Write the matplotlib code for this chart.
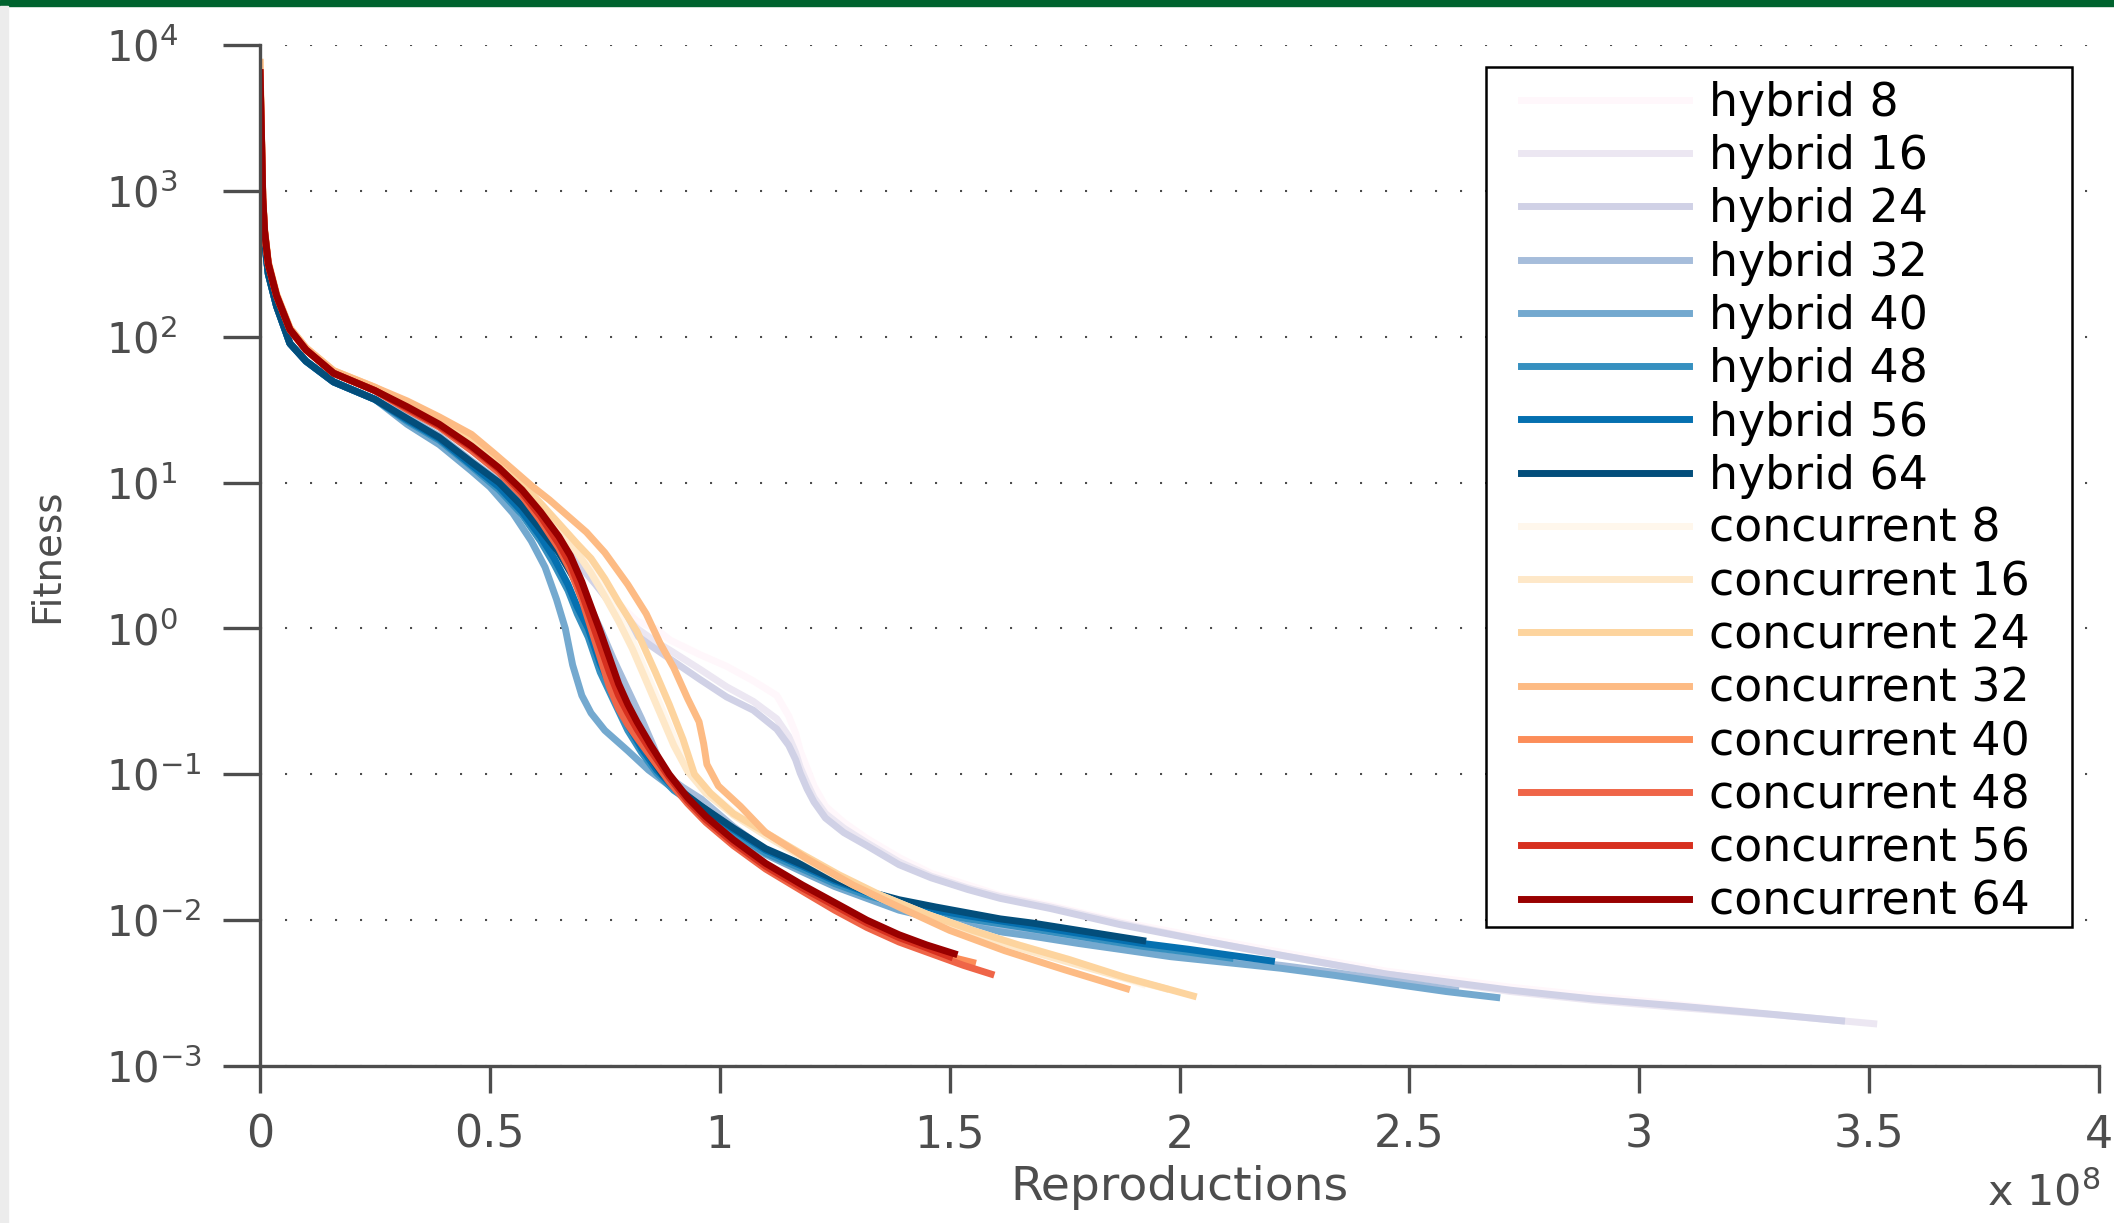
import matplotlib
matplotlib.use("Agg")
import matplotlib.pyplot as plt
from matplotlib.patches import Rectangle
from matplotlib.ticker import NullLocator

# Reproductions are in units of 1e8, fitness is plotted on a log axis.
# All runs share (nearly) the same first steep drop.
x_start = [0, 0.003, 0.006, 0.010, 0.018, 0.036, 0.065, 0.10, 0.16, 0.25]
fit_start_hybrid = [5500, 2000, 760, 450, 270, 162, 90, 68, 49, 37.2]
fit_start_conc = [6460, 2510, 891, 525, 316, 191, 112, 81.3, 56.2, 42.7]
fit_start_conc_light = [7600, 2600, 920, 540, 325, 196, 115, 84, 58.5, 45]

hybrid8_x = [0.32, 0.39, 0.46, 0.52, 0.57, 0.61, 0.65, 0.69, 0.73, 0.77, 0.82, 0.86, 0.892, 0.957, 1.015,
             1.073, 1.124, 1.15, 1.165, 1.175, 1.19, 1.205, 1.23, 1.27, 1.32, 1.39, 1.46, 1.54, 1.61, 1.72,
             1.87, 2.05, 2.22, 2.45, 2.72, 2.90, 3.09, 3.25]
hybrid8_fit = [32.4, 24.5, 17.0, 12.0, 8.51, 6.17, 4.37, 3.02, 2.19, 1.58, 1.12, 1.00, 0.832, 0.661, 0.550,
               0.437, 0.347, 0.251, 0.191, 0.145, 0.110, 0.0832, 0.0603, 0.0468, 0.0363, 0.0269, 0.0209,
               0.0174, 0.0148, 0.0126, 0.00977, 0.00759, 0.00603, 0.00447, 0.00347, 0.00302, 0.00263, 0.00234]

hybrid16_x = [0.32, 0.39, 0.46, 0.52, 0.57, 0.61, 0.65, 0.69, 0.73, 0.77, 0.82, 0.86, 0.892, 0.957, 1.015,
              1.073, 1.124, 1.15, 1.165, 1.175, 1.19, 1.205, 1.23, 1.27, 1.32, 1.39, 1.46, 1.54, 1.61, 1.72,
              1.87, 2.05, 2.22, 2.45, 2.72, 2.90, 3.09, 3.30, 3.51]
hybrid16_fit = [32.4, 24.5, 17.0, 12.0, 8.51, 6.17, 4.37, 3.02, 2.14, 1.48, 1.00, 0.813, 0.708, 0.525, 0.398,
                0.316, 0.240, 0.182, 0.141, 0.112, 0.0871, 0.0692, 0.0537, 0.0427, 0.0339, 0.0251, 0.0200,
                0.0166, 0.0145, 0.0123, 0.00955, 0.00724, 0.00575, 0.00427, 0.00324, 0.00282, 0.00251,
                0.00224, 0.00195]

hybrid24_x = [0.32, 0.39, 0.46, 0.52, 0.57, 0.61, 0.65, 0.69, 0.73, 0.77, 0.82, 0.86, 0.892, 0.957, 1.015,
              1.073, 1.124, 1.15, 1.165, 1.175, 1.19, 1.205, 1.23, 1.27, 1.32, 1.39, 1.46, 1.54, 1.61, 1.72,
              1.87, 2.05, 2.22, 2.45, 2.72, 2.90, 3.09, 3.27, 3.44]
hybrid24_fit = [31.6, 24.0, 16.6, 11.7, 8.32, 6.03, 4.17, 2.82, 2.00, 1.38, 0.891, 0.724, 0.617, 0.447, 0.339,
                0.275, 0.204, 0.158, 0.126, 0.102, 0.0794, 0.0646, 0.0501, 0.0398, 0.0324, 0.0240, 0.0195,
                0.0162, 0.0141, 0.0120, 0.00933, 0.00724, 0.00575, 0.00427, 0.00331, 0.00288, 0.00257,
                0.00229, 0.00204]

hybrid32_x = [0.32, 0.39, 0.46, 0.52, 0.57, 0.61, 0.65, 0.68, 0.71, 0.74, 0.77, 0.80, 0.83, 0.855, 0.88,
              0.92, 0.96, 1.03, 1.10, 1.18, 1.25, 1.32, 1.39, 1.47, 1.54, 1.61, 1.68, 1.78, 1.87, 1.98,
              2.10, 2.22, 2.34, 2.47, 2.60]
hybrid32_fit = [28.2, 20.9, 14.1, 10.2, 7.24, 5.01, 3.39, 2.40, 1.58, 1.00, 0.603, 0.380, 0.240, 0.158, 0.100,
                0.0813, 0.0676, 0.0437, 0.0302, 0.0224, 0.0178, 0.0148, 0.0123, 0.0107, 0.00955, 0.00871,
                0.00813, 0.00724, 0.00661, 0.00589, 0.00537, 0.00490, 0.00437, 0.00380, 0.00331]

hybrid40_x = [0.32, 0.39, 0.46, 0.50, 0.55, 0.59, 0.62, 0.645, 0.664, 0.68, 0.70, 0.72, 0.75, 0.80, 0.845,
              0.90, 0.96, 1.03, 1.10, 1.18, 1.25, 1.32, 1.39, 1.47, 1.54, 1.61, 1.68, 1.78, 1.87, 1.98,
              2.10, 2.22, 2.34, 2.47, 2.58, 2.69]
hybrid40_fit = [25.1, 18.2, 12.0, 9.33, 6.17, 3.98, 2.63, 1.58, 1.00, 0.562, 0.347, 0.263, 0.200, 0.145, 0.107,
                0.0794, 0.0575, 0.0389, 0.0282, 0.0214, 0.0170, 0.0141, 0.0117, 0.0102, 0.00912, 0.00832,
                0.00776, 0.00692, 0.00631, 0.00562, 0.00513, 0.00468, 0.00417, 0.00363, 0.00324, 0.00295]

hybrid48_x = [0.32, 0.39, 0.46, 0.52, 0.57, 0.61, 0.64, 0.67, 0.69, 0.714, 0.74, 0.77, 0.80, 0.83, 0.863,
              0.90, 0.96, 1.03, 1.10, 1.18, 1.25, 1.32, 1.39, 1.47, 1.54, 1.62, 1.72, 1.82, 1.92, 2.02, 2.11]
hybrid48_fit = [26.3, 19.5, 12.9, 8.91, 6.03, 3.98, 2.75, 1.82, 1.26, 0.871, 0.501, 0.316, 0.200, 0.141, 0.102,
                0.0776, 0.0575, 0.0398, 0.0288, 0.0224, 0.0178, 0.0148, 0.0129, 0.0112, 0.0102, 0.00933,
                0.00832, 0.00741, 0.00661, 0.00603, 0.00550]

hybrid56_x = [0.32, 0.39, 0.46, 0.52, 0.57, 0.61, 0.64, 0.67, 0.69, 0.714, 0.74, 0.77, 0.80, 0.83, 0.863,
              0.90, 0.96, 1.03, 1.10, 1.18, 1.25, 1.32, 1.39, 1.47, 1.54, 1.62, 1.72, 1.82, 1.92, 2.02, 2.11,
              2.20]
hybrid56_fit = [26.9, 20.0, 13.2, 9.33, 6.31, 4.27, 3.02, 2.00, 1.41, 1.00, 0.575, 0.355, 0.219, 0.151, 0.107,
                0.0813, 0.0603, 0.0417, 0.0302, 0.0234, 0.0186, 0.0155, 0.0135, 0.0117, 0.0107, 0.00977,
                0.00871, 0.00776, 0.00692, 0.00631, 0.00575, 0.00525]

hybrid64_x = [0.32, 0.39, 0.46, 0.52, 0.57, 0.61, 0.65, 0.68, 0.71, 0.733, 0.755, 0.78, 0.81, 0.845, 0.875,
              0.91, 0.96, 1.03, 1.10, 1.18, 1.25, 1.32, 1.39, 1.47, 1.54, 1.61, 1.68, 1.76, 1.84, 1.92]
hybrid64_fit = [27.5, 20.4, 13.8, 10.0, 6.92, 4.79, 3.31, 2.29, 1.45, 1.00, 0.631, 0.372, 0.229, 0.138, 0.100,
                0.0794, 0.0603, 0.0427, 0.0309, 0.0240, 0.0191, 0.0158, 0.0138, 0.0123, 0.0112, 0.0102,
                0.00955, 0.00871, 0.00794, 0.00724]

conc8_x = [0.32, 0.39, 0.46, 0.52, 0.57, 0.61, 0.65, 0.69, 0.72, 0.75, 0.78, 0.81, 0.84, 0.87, 0.90, 0.93,
           0.97, 1.03, 1.10, 1.18, 1.26, 1.35, 1.45, 1.55, 1.65, 1.76, 1.84, 1.92]
conc8_fit = [33.9, 26.3, 19.1, 13.5, 9.55, 7.08, 5.01, 3.55, 2.63, 1.86, 1.26, 0.832, 0.501, 0.302, 0.182,
             0.115, 0.0794, 0.0550, 0.0398, 0.0282, 0.0204, 0.0148, 0.0110, 0.00851, 0.00676, 0.00537,
             0.00437, 0.00363]

conc16_x = [0.32, 0.39, 0.46, 0.52, 0.57, 0.61, 0.65, 0.69, 0.72, 0.75, 0.78, 0.81, 0.84, 0.87, 0.90, 0.93,
            0.97, 1.03, 1.10, 1.18, 1.26, 1.35, 1.45, 1.55, 1.65, 1.76, 1.86, 1.97]
conc16_fit = [33.9, 26.3, 19.1, 13.2, 9.33, 6.76, 4.68, 3.31, 2.40, 1.66, 1.12, 0.724, 0.437, 0.263, 0.158,
              0.105, 0.0741, 0.0525, 0.0380, 0.0269, 0.0195, 0.0141, 0.0105, 0.00813, 0.00646, 0.00513,
              0.00417, 0.00339]

conc24_x = [0.32, 0.39, 0.46, 0.52, 0.57, 0.61, 0.65, 0.69, 0.72, 0.75, 0.78, 0.82, 0.86, 0.89, 0.92, 0.945,
            0.98, 1.03, 1.10, 1.18, 1.26, 1.35, 1.45, 1.55, 1.65, 1.76, 1.88, 2.03]
conc24_fit = [34.7, 26.9, 19.5, 13.8, 9.77, 7.24, 5.25, 3.80, 3.02, 2.19, 1.51, 0.955, 0.501, 0.302, 0.174,
              0.100, 0.0741, 0.0537, 0.0398, 0.0282, 0.0204, 0.0148, 0.0110, 0.00851, 0.00676, 0.00537,
              0.00407, 0.00302]

conc32_x = [0.32, 0.39, 0.46, 0.51, 0.55, 0.59, 0.63, 0.67, 0.71, 0.75, 0.80, 0.84, 0.87, 0.90, 0.93, 0.955,
            0.965, 0.972, 0.997, 1.045, 1.10, 1.19, 1.29, 1.39, 1.50, 1.62, 1.75, 1.885]
conc32_fit = [36.3, 28.2, 21.4, 15.8, 12.3, 9.55, 7.59, 5.89, 4.57, 3.31, 2.00, 1.26, 0.794, 0.537, 0.331,
              0.229, 0.162, 0.117, 0.0832, 0.0603, 0.0398, 0.0263, 0.0174, 0.0123, 0.00851, 0.00617,
              0.00457, 0.00339]

conc40_x = [0.32, 0.39, 0.46, 0.52, 0.57, 0.61, 0.65, 0.675, 0.70, 0.72, 0.74, 0.76, 0.78, 0.80, 0.82, 0.85,
            0.89, 0.93, 0.97, 1.03, 1.10, 1.18, 1.25, 1.32, 1.39, 1.46, 1.55]
conc40_fit = [32.4, 24.5, 17.0, 12.0, 8.32, 5.75, 3.72, 2.63, 1.66, 1.07, 0.692, 0.447, 0.316, 0.240, 0.191,
              0.138, 0.0933, 0.0646, 0.0479, 0.0331, 0.0229, 0.0162, 0.0120, 0.00912, 0.00724, 0.00603,
              0.00513]

conc48_x = [0.32, 0.39, 0.46, 0.52, 0.57, 0.61, 0.65, 0.675, 0.70, 0.72, 0.74, 0.76, 0.78, 0.80, 0.82, 0.85,
            0.89, 0.93, 0.97, 1.03, 1.10, 1.18, 1.25, 1.32, 1.39, 1.46, 1.53, 1.59]
conc48_fit = [31.6, 24.0, 16.6, 11.7, 8.13, 5.50, 3.55, 2.51, 1.58, 1.00, 0.631, 0.398, 0.282, 0.219, 0.178,
              0.132, 0.0891, 0.0631, 0.0468, 0.0324, 0.0224, 0.0158, 0.0117, 0.00891, 0.00708, 0.00589,
              0.00490, 0.00427]

conc56_x = [0.32, 0.39, 0.46, 0.52, 0.57, 0.61, 0.65, 0.675, 0.70, 0.72, 0.74, 0.76, 0.78, 0.80, 0.82, 0.85,
            0.89, 0.93, 0.97, 1.03, 1.10, 1.18, 1.25, 1.32, 1.39, 1.45, 1.50]
conc56_fit = [32.4, 24.5, 17.4, 12.3, 8.51, 5.89, 3.80, 2.75, 1.74, 1.15, 0.759, 0.501, 0.347, 0.263, 0.204,
              0.145, 0.0955, 0.0661, 0.0490, 0.0339, 0.0234, 0.0166, 0.0126, 0.00955, 0.00759, 0.00646,
              0.00562]

conc64_x = [0.32, 0.39, 0.46, 0.52, 0.57, 0.61, 0.65, 0.675, 0.70, 0.72, 0.74, 0.76, 0.78, 0.80, 0.82, 0.85,
            0.89, 0.93, 0.97, 1.03, 1.10, 1.18, 1.25, 1.32, 1.39, 1.45, 1.51]
conc64_fit = [33.1, 25.1, 17.8, 12.6, 8.91, 6.31, 4.27, 3.16, 2.09, 1.41, 0.955, 0.631, 0.417, 0.302, 0.229,
              0.158, 0.100, 0.0692, 0.0513, 0.0355, 0.0245, 0.0174, 0.0132, 0.0100, 0.00794, 0.00676,
              0.00589]

labels = ["hybrid 8", "hybrid 16", "hybrid 24", "hybrid 32", "hybrid 40", "hybrid 48", "hybrid 56",
          "hybrid 64", "concurrent 8", "concurrent 16", "concurrent 24", "concurrent 32",
          "concurrent 40", "concurrent 48", "concurrent 56", "concurrent 64"]
colors = ["#fff7fb", "#ece7f2", "#d0d1e6", "#a6bddb", "#74a9cf", "#3690c0", "#0570b0", "#034e7b",
          "#fff7ec", "#fee8c8", "#fdd49e", "#fdbb84", "#fc8d59", "#ef6548", "#d7301f", "#990000"]
starts = [fit_start_hybrid] * 8 + [fit_start_conc_light] * 4 + [fit_start_conc] * 4
tails = [(hybrid8_x, hybrid8_fit), (hybrid16_x, hybrid16_fit), (hybrid24_x, hybrid24_fit),
         (hybrid32_x, hybrid32_fit), (hybrid40_x, hybrid40_fit), (hybrid48_x, hybrid48_fit),
         (hybrid56_x, hybrid56_fit), (hybrid64_x, hybrid64_fit), (conc8_x, conc8_fit),
         (conc16_x, conc16_fit), (conc24_x, conc24_fit), (conc32_x, conc32_fit),
         (conc40_x, conc40_fit), (conc48_x, conc48_fit), (conc56_x, conc56_fit),
         (conc64_x, conc64_fit)]

xticks = [0, 0.5, 1, 1.5, 2, 2.5, 3, 3.5, 4]
xtick_labels = ["0", "0.5", "1", "1.5", "2", "2.5", "3", "3.5", "4"]
yticks = [1e-3, 1e-2, 1e-1, 1e0, 1e1, 1e2, 1e3, 1e4]
ytick_labels = [r"$10^{-3}$", r"$10^{-2}$", r"$10^{-1}$", r"$10^{0}$",
                r"$10^{1}$", r"$10^{2}$", r"$10^{3}$", r"$10^{4}$"]

W, H = 2114, 1223
GREY = "#4d4d4d"
plt.rcParams["font.family"] = ["DejaVu Sans"]
plt.rcParams["mathtext.fontset"] = "dejavusans"

fig = plt.figure(figsize=(W / 100, H / 100), dpi=100)
ax = fig.add_axes([260 / W, 1 - 1066 / H, (2099 - 260) / W, (1066 - 45) / H])

for lab, col, st, (tx, tf) in zip(labels, colors, starts, tails):
    ax.plot(x_start + tx, st + tf, color=col, lw=5, label=lab)

ax.set_yscale("log")
ax.set_xlim(0, 4)
ax.set_ylim(1e-3, 1e4)
ax.set_xticks(xticks)
ax.set_xticklabels(xtick_labels)
ax.set_yticks(yticks)
ax.set_yticklabels(ytick_labels)
ax.yaxis.set_minor_locator(NullLocator())
ax.xaxis.set_minor_locator(NullLocator())

for side in ["top", "right"]:
    ax.spines[side].set_visible(False)
for side in ["left", "bottom"]:
    ax.spines[side].set_color(GREY)
    ax.spines[side].set_linewidth(2.4)
ax.tick_params(axis="x", direction="out", length=19.4, width=2.4, color=GREY,
               labelsize=32, labelcolor=GREY, pad=15)
ax.tick_params(axis="y", direction="out", length=26.6, width=2.4, color=GREY,
               labelsize=30, labelcolor=GREY, pad=84)
for t in ax.get_yticklabels():
    t.set_horizontalalignment("left")

ax.yaxis.grid(True, which="major", color=GREY, linestyle=(0, (1, 11)), linewidth=1.5)
ax.xaxis.grid(False)

fig.text(47 / W, 1 - 556 / H, "Fitness", rotation=90, ha="center", va="center",
         fontsize=28, color=GREY)
fig.text(1179 / W, 1 - 1200 / H, "Reproductions", ha="center", va="baseline",
         fontsize=34, color=GREY)
fig.text(2100 / W, 1 - 1172 / H, r"x 10$^{8}$", ha="right", va="top", fontsize=31, color=GREY)

# legend frame drawn by hand so the padding matches the original
fig.add_artist(Rectangle((1486 / W, 1 - 927 / H), 586 / W, 860 / H, transform=fig.transFigure,
                         facecolor="white", edgecolor="black", linewidth=1.8, zorder=4))
handles, labs = ax.get_legend_handles_labels()
leg_fs = 33
fs_px = leg_fs * 100 / 72
leg = fig.legend(handles, labs, loc="upper left", bbox_to_anchor=(1521 / W, 1 - 81 / H),
                 frameon=False, fontsize=leg_fs, borderpad=0, borderaxespad=0,
                 handlelength=168 / fs_px, handletextpad=20 / fs_px, labelspacing=0.18)
leg.set_zorder(5)

# page decoration around the screenshot
fig.add_artist(Rectangle((0, 1 - 6 / H), 1, 6 / H, transform=fig.transFigure,
                         color="#00632e", zorder=6))
fig.add_artist(Rectangle((0, 0), 8 / W, 1 - 6 / H, transform=fig.transFigure,
                         color="#ececec", zorder=6))

fig.savefig("out.png", dpi=100)
